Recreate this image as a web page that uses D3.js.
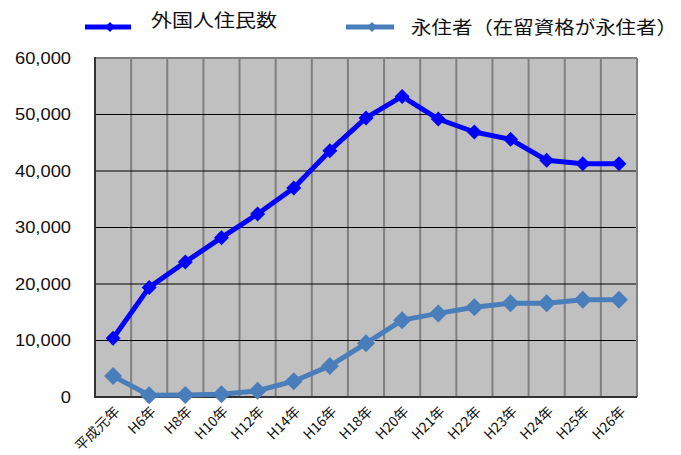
<!DOCTYPE html>
<html><head><meta charset="utf-8">
<script src="https://cdn.jsdelivr.net/npm/d3@7"></script>
<style>body{margin:0;background:#fff;} svg{display:block;}</style>
</head><body>
<script>
const categories = ["平成元年","H6年","H8年","H10年","H12年","H14年","H16年","H18年","H20年","H21年","H22年","H23年","H24年","H25年","H26年"];
const foreignResidents = [10400,19400,23900,28200,32400,37000,43600,49400,53200,49200,46900,45600,41900,41300,41300];
const permanentResidents = [3700,300,350,500,1100,2800,5500,9500,13600,14800,15900,16600,16600,17200,17200];
const yTicks = [0,10000,20000,30000,40000,50000,60000];
const seriesNames = ["外国人住民数","永住者（在留資格が永住者）"];

const W=681,H=455;
const svg=d3.select("body").append("svg").attr("width",W).attr("height",H);
const L=95,R=637,T=58,B=397;
const x=d3.scaleBand().domain(categories).range([L,R]);
const y=d3.scaleLinear().domain([0,60000]).range([B,T]);

svg.append("rect").attr("x",L).attr("y",T).attr("width",R-L).attr("height",B-T).attr("fill","#c0c0c0");
svg.append("g").selectAll("line").data(categories.slice(1)).join("line")
  .attr("x1",d=>x(d)).attr("x2",d=>x(d)).attr("y1",T).attr("y2",B)
  .attr("stroke","#808080").attr("stroke-width",2);
svg.append("g").selectAll("line").data(yTicks.slice(1,-1)).join("line")
  .attr("x1",L).attr("x2",R).attr("y1",d=>y(d)).attr("y2",d=>y(d))
  .attr("stroke","#000").attr("stroke-width",1);
svg.append("line").attr("x1",L).attr("x2",R).attr("y1",T).attr("y2",T).attr("stroke","#808080").attr("stroke-width",2);
svg.append("line").attr("x1",R).attr("x2",R).attr("y1",T).attr("y2",B).attr("stroke","#808080").attr("stroke-width",2);
svg.append("line").attr("x1",L).attr("x2",L).attr("y1",T-1).attr("y2",B+1).attr("stroke","#333").attr("stroke-width",2);
svg.append("line").attr("x1",L).attr("x2",R).attr("y1",B).attr("y2",B).attr("stroke","#333").attr("stroke-width",2);

// y axis labels
svg.append("g").selectAll("text").data(yTicks).join("text")
  .attr("x",71).attr("y",d=>y(d)).attr("dy","0.36em").attr("text-anchor","end")
  .attr("font-family","Liberation Sans, Arial, sans-serif").attr("font-size",16).attr("fill","#111")
  .attr("textLength",d=>{const s=d3.format(",")(d);const nd=s.replace(/,/g,"").length;const nc=s.length-nd;return nd*10.2+nc*5;})
  .attr("lengthAdjust","spacingAndGlyphs")
  .text(d=>d3.format(",")(d));

// x axis labels
svg.append("g").selectAll("text").data(categories).join("text")
  .attr("transform",d=>`translate(${x(d)+x.bandwidth()/2+4},${B+12}) rotate(-45)`)
  .attr("text-anchor","end").attr("dy","0.35em")
  .attr("font-family","Noto Sans CJK JP, sans-serif").attr("font-size",14).attr("fill","#111")
  .text(d=>d);

const cx=d=>x(d)+x.bandwidth()/2;
const line=d3.line().x((d,i)=>cx(categories[i])).y(d=>y(d));
const diamond=(s)=>`M0,${-s}L${s},0L0,${s}L${-s},0Z`;

function drawSeries(vals,color,sw,ms){
  svg.append("path").datum(vals).attr("d",line).attr("fill","none")
    .attr("stroke",color).attr("stroke-width",sw).attr("stroke-linejoin","round");
  svg.append("g").selectAll("path").data(vals).join("path")
    .attr("transform",(d,i)=>`translate(${cx(categories[i])},${y(d)})`)
    .attr("d",diamond(ms)).attr("fill",color);
}
drawSeries(permanentResidents,"#4a7ebb",5,9);
drawSeries(foreignResidents,"#0000ff",5,7.5);

// legend
const lg=svg.append("g");
lg.append("line").attr("x1",85).attr("x2",131).attr("y1",27).attr("y2",27).attr("stroke","#0000ff").attr("stroke-width",5);
lg.append("path").attr("transform","translate(110,27)").attr("d",diamond(5)).attr("fill","#0000ff");
lg.append("text").attr("x",151).attr("y",27).attr("font-family","Noto Sans CJK JP, sans-serif").attr("font-size",18)
  .attr("textLength",126).attr("lengthAdjust","spacingAndGlyphs").attr("fill","#111").text(seriesNames[0]);
lg.append("line").attr("x1",346).attr("x2",394).attr("y1",27).attr("y2",27).attr("stroke","#4a7ebb").attr("stroke-width",5);
lg.append("path").attr("transform","translate(372,27)").attr("d",diamond(5)).attr("fill","#4a7ebb");
lg.append("text").attr("x",411).attr("y",34).attr("font-family","Noto Sans CJK JP, sans-serif").attr("font-size",18)
  .attr("textLength",266).attr("lengthAdjust","spacingAndGlyphs").attr("fill","#111").text(seriesNames[1]);
</script>
</body></html>
